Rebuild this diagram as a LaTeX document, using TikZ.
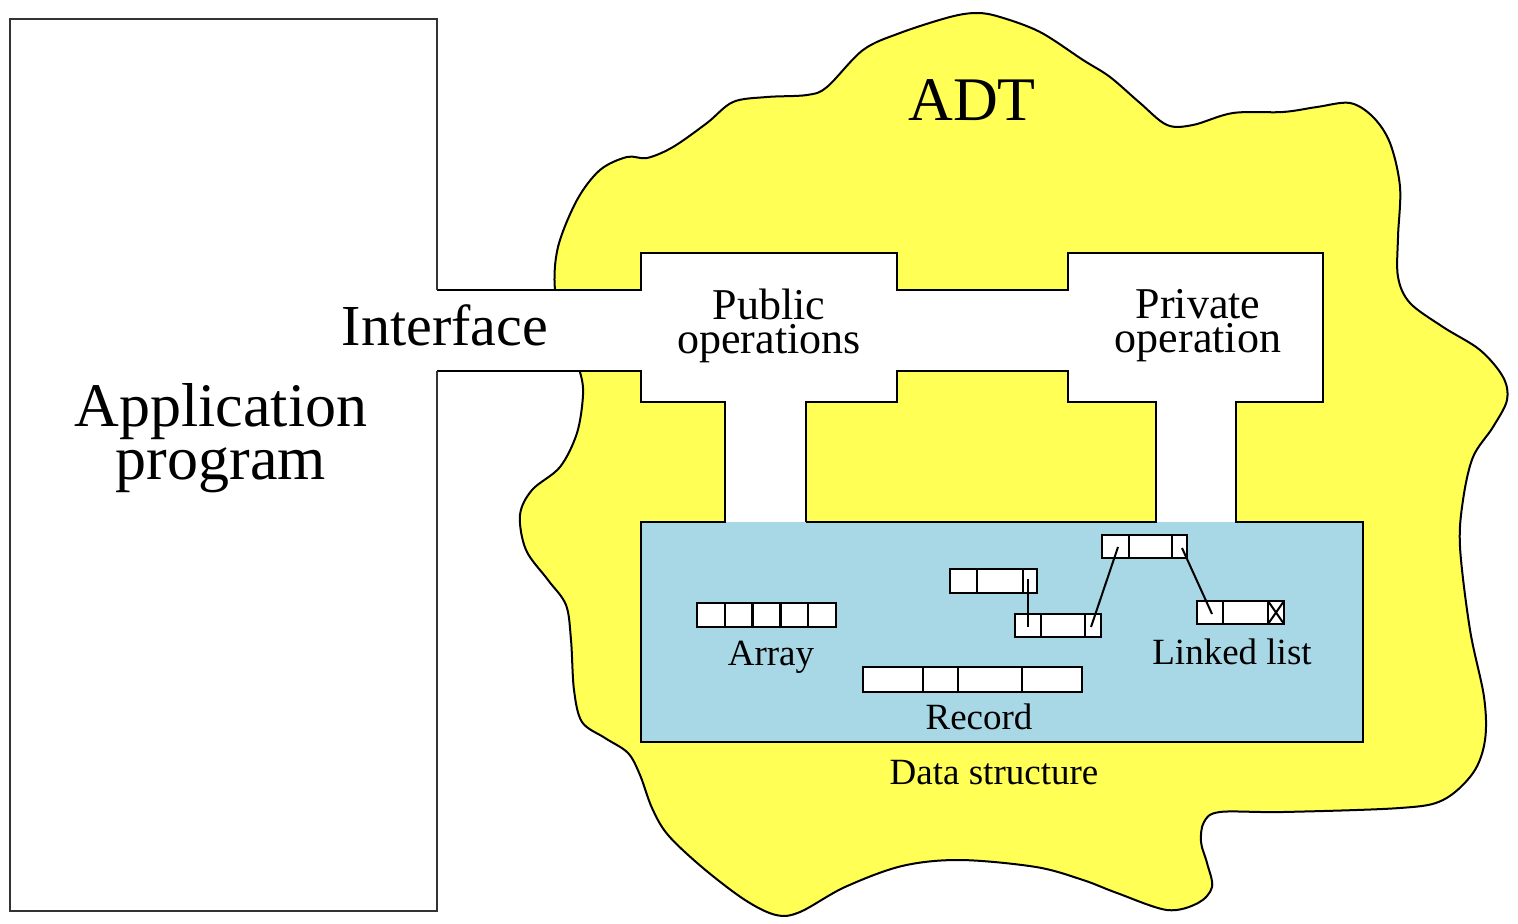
\documentclass[tikz,border=0pt]{standalone}
\usepackage{fontspec}
\setmainfont{Liberation Serif}
\definecolor{adtyellow}{RGB}{255,255,85}
\definecolor{dsblue}{RGB}{168,216,230}
\begin{document}
\begin{tikzpicture}[x=0.5pt,y=-0.5pt,
  blob/.style={fill=adtyellow, draw=black, line width=1pt},
  wall/.style={draw=black, line width=1.2pt, line join=miter},
  appwall/.style={draw=black!80, line width=1pt},
  cellbox/.style={draw=black, fill=white, line width=1.2pt},
  divider/.style={draw=black, line width=1.2pt},
  ptr/.style={draw=black, line width=1pt},
  big/.style={font=\fontsize{31}{26.5}\selectfont, inner sep=0pt, align=center},
  mid/.style={font=\fontsize{29}{29}\selectfont, inner sep=0pt},
  ops/.style={font=\fontsize{22}{17}\selectfont, inner sep=0pt, align=center},
  small/.style={font=\fontsize{18.5}{18.5}\selectfont, inner sep=0pt}]
\useasboundingbox (0,0) rectangle (1518,924);

% ADT blob
\draw[blob] plot[smooth cycle, tension=0.55] coordinates {
 (555,290) (558,247) (577,200) (600,170) (627,157) (647,158) (673,147)
 (707,123) (733,102) (767,97) (807,95) (827,87) (863,50) (900,33)
 (950,17) (977,13) (1000,17) (1040,32) (1083,60) (1110,77) (1140,103)
 (1167,125) (1193,125) (1233,113) (1283,112) (1317,107) (1350,103)
 (1373,117) (1390,143) (1400,187) (1398,237) (1398,277) (1410,303)
 (1443,327) (1480,350) (1503,377) (1507,400) (1493,427) (1473,457)
 (1463,500) (1460,547) (1470,630) (1484,697) (1485,740) (1473,773)
 (1443,800) (1400,808) (1283,812) (1220,812) (1204,822) (1201,842)
 (1207,863) (1212,887) (1198,903) (1167,910) (1117,893) (1083,880)
 (1036,867) (960,860) (902,866) (845,887) (800,912) (776,915)
 (745,900) (703,868) (668,835) (652,808) (640,775) (628,753)
 (605,738) (582,722) (574,690) (571,640) (566,605) (548,580)
 (526,550) (520,515) (532,490) (560,467) (577,433) (583,395)
 (580,372) (566,330)};

% white corridor fill
\fill[white] (437,290) -- (641,290) -- (641,253) -- (897,253) -- (897,290)
 -- (1068,290) -- (1068,253) -- (1323,253) -- (1323,402) -- (1236,402)
 -- (1236,523) -- (1156,523) -- (1156,402) -- (1068,402) -- (1068,371)
 -- (897,371) -- (897,402) -- (806,402) -- (806,523) -- (725,523)
 -- (725,402) -- (641,402) -- (641,371) -- (437,371) -- cycle;

% data structure box
\fill[dsblue] (641,522) rectangle (1363,742);

% corridor walls
\draw[wall] (437,290) -- (641,290) -- (641,253) -- (897,253) -- (897,290)
 -- (1068,290) -- (1068,253) -- (1323,253) -- (1323,402) -- (1236,402)
 -- (1236,522) -- (1363,522) -- (1363,742) -- (641,742) -- (641,522) -- (725,522)
 -- (725,402) -- (641,402) -- (641,371) -- (437,371);
\fill[adtyellow] (806,402) rectangle (1156,522);
\draw[wall] (806,522) -- (806,402) -- (897,402) -- (897,371) -- (1068,371)
 -- (1068,402) -- (1156,402) -- (1156,522) -- (806,522);

% application program box
\draw[appwall] (437,290) -- (437,19) -- (10,19) -- (10,911) -- (437,911) -- (437,371);

% texts
\node[big, anchor=base] (adt) at (972,121) {ADT};
\node[big, anchor=north] (app) at (221,383) {Application\\program};
\node[mid, anchor=base] (iface) at (445,346) {Interface};
\node[ops, anchor=north] (pub) at (769,289) {Public\\operations};
\node[ops, anchor=north] (priv) at (1198,289) {Private\\operation};
\node[small, anchor=base] (arrlbl) at (771,665) {Array};
\node[small, anchor=base] (reclbl) at (979,729) {Record};
\node[small, anchor=base] (lllbl) at (1232,664) {Linked list};
\node[small, anchor=base] (dslbl) at (994,784) {Data structure};

% array
\draw[cellbox] (697,603) rectangle (836,627);
\foreach \xx in {724.8,752.6,780.4,808.2} \draw[divider] (\xx,603) -- (\xx,627);

% record
\draw[cellbox] (863,667) rectangle (1082,692);
\foreach \xx in {923,958,1022} \draw[divider] (\xx,667) -- (\xx,692);

% linked list boxes
\draw[cellbox] (950,569) rectangle (1037,593);
\foreach \xx in {977,1023} \draw[divider] (\xx,569) -- (\xx,593);
\draw[cellbox] (1015,614) rectangle (1101,637);
\foreach \xx in {1041,1085} \draw[divider] (\xx,614) -- (\xx,637);
\draw[cellbox] (1102,535) rectangle (1187,558);
\foreach \xx in {1129,1172} \draw[divider] (\xx,535) -- (\xx,558);
\draw[cellbox] (1197,601) rectangle (1284,624);
\foreach \xx in {1223,1268} \draw[divider] (\xx,601) -- (\xx,624);
\draw[ptr] (1268,601) -- (1284,624) (1268,624) -- (1284,601);

% pointers
\coordinate (pA) at (1028,579);
\coordinate (pB) at (1028,627);
\coordinate (pB2) at (1091,627);
\coordinate (pC) at (1118,547);
\coordinate (pC2) at (1182,548);
\coordinate (pD) at (1212,614);
\draw[ptr] (pA) -- (pB);
\draw[ptr] (pB2) -- (pC);
\draw[ptr] (pC2) -- (pD);
\end{tikzpicture}
\end{document}
